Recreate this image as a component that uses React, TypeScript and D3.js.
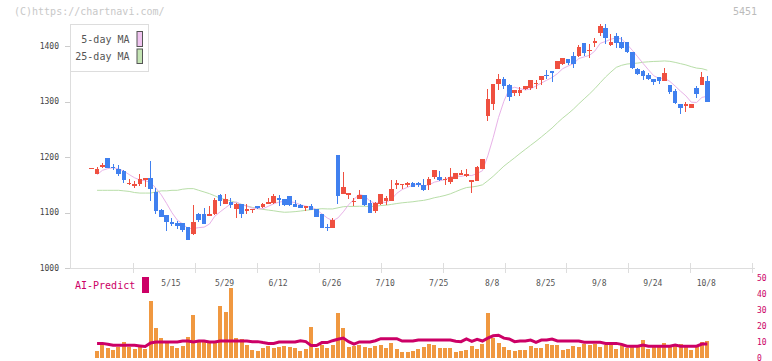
import React from "react";
import * as d3 from "d3";

// Daily candles (index 0..115)
const opens = [1179,1170,1182,1198,1182,1179,1174,1153,1148,1151,1158,1163,1137,1104,1095,1082,1081,1081,1073,1061,1098,1098,1094,1097,1131,1116,1119,1107,1115,1103,1104,1111,1110,1116,1117,1126,1124,1129,1115,1114,1109,1112,1106,1097,1074,1072,1204,1133,1132,1120,1124,1131,1118,1102,1115,1121,1121,1150,1151,1149,1153,1153,1150,1149,1164,1164,1158,1155,1161,1168,1165,1155,1157,1179,1274,1295,1331,1340,1330,1316,1316,1322,1324,1333,1338,1348,1355,1358,1367,1376,1382,1382,1405,1391,1406,1424,1433,1402,1418,1408,1407,1389,1358,1355,1348,1340,1345,1337,1330,1319,1295,1292,1289,1325,1329,1337];
const highs = [1181,1182,1189,1199,1188,1185,1177,1160,1157,1170,1163,1192,1145,1107,1095,1090,1085,1081,1073,1114,1100,1109,1112,1126,1133,1133,1127,1117,1115,1116,1107,1112,1117,1127,1133,1131,1124,1130,1122,1115,1112,1115,1106,1097,1079,1090,1204,1173,1136,1127,1140,1131,1122,1119,1134,1130,1158,1158,1152,1155,1155,1155,1160,1164,1177,1174,1164,1180,1171,1177,1178,1158,1183,1197,1323,1332,1349,1344,1332,1320,1327,1328,1338,1338,1346,1357,1355,1373,1379,1376,1390,1402,1405,1404,1415,1439,1439,1421,1424,1416,1407,1389,1361,1356,1352,1340,1345,1361,1330,1323,1295,1299,1295,1328,1353,1346];
const lows = [1179,1170,1180,1180,1177,1166,1154,1149,1144,1148,1146,1121,1097,1091,1067,1076,1071,1064,1051,1060,1082,1079,1093,1095,1112,1116,1108,1090,1090,1097,1100,1106,1109,1115,1115,1112,1112,1112,1110,1108,1103,1104,1091,1072,1067,1072,1115,1133,1124,1112,1124,1112,1099,1099,1114,1113,1121,1143,1143,1146,1146,1146,1138,1140,1161,1157,1149,1151,1160,1168,1164,1135,1157,1179,1264,1284,1320,1323,1301,1310,1310,1320,1320,1322,1329,1341,1335,1358,1365,1365,1360,1380,1382,1379,1398,1418,1404,1400,1397,1395,1388,1358,1347,1338,1338,1329,1332,1337,1314,1296,1277,1281,1288,1307,1329,1299];
const closes = [1180,1178,1185,1181,1180,1169,1158,1154,1152,1160,1162,1142,1103,1092,1082,1079,1075,1069,1051,1082,1087,1079,1097,1122,1121,1124,1114,1115,1097,1107,1107,1108,1115,1119,1129,1123,1114,1113,1110,1109,1111,1105,1091,1072,1072,1086,1130,1146,1136,1121,1131,1114,1099,1118,1133,1126,1143,1153,1152,1153,1146,1149,1140,1161,1177,1158,1161,1164,1171,1171,1169,1158,1182,1197,1305,1332,1340,1328,1308,1320,1320,1328,1338,1334,1346,1346,1352,1373,1379,1370,1367,1398,1388,1393,1409,1436,1415,1408,1406,1397,1389,1361,1350,1346,1340,1335,1337,1352,1317,1298,1289,1295,1295,1314,1344,1299];

// Moving-average values read before enough in-window history exists (index 1..)
const ma5Head = [1168, 1176, 1179];
const ma25Head = [1140,1140,1140,1140,1140,1139,1138,1136,1135,1135,1135,1137,1139,1139,1140,1140,1142,1143,1143,1140,1137,1134,1130];

// AI-Predict panel (index 1..115)
const predictBars = [4.6,8.2,6.5,5.0,7.1,10.3,7.1,5.7,7.6,5.7,35.9,19.1,12.6,9.7,7.6,6.5,7.8,13.4,27.3,10.3,10.3,9.7,10.7,32.9,29.2,43.9,12.6,12.0,8.2,5.0,4.6,6.5,7.6,6.5,7.1,7.8,7.1,6.5,4.4,5.7,19.5,6.5,8.2,6.5,8.2,28.5,19.1,7.1,7.6,8.2,7.1,6.5,7.8,8.2,6.5,9.2,5.7,4.0,3.5,4.6,5.7,7.1,8.8,8.2,6.5,6.5,6.5,4.0,4.6,5.0,7.6,5.7,8.8,28.5,12.4,9.7,6.9,5.0,4.4,5.0,5.0,7.6,6.3,6.3,8.8,8.2,8.2,5.0,5.7,7.6,6.9,8.8,8.2,8.8,6.9,8.2,8.2,5.7,8.2,6.3,6.9,6.9,11.3,5.7,6.9,6.9,9.4,6.9,7.6,8.8,6.9,5.0,6.9,10.1,10.7];
const predictLine = [9.2,9.2,8.6,8.0,8.0,8.0,8.0,8.0,7.6,7.2,9.5,10.1,10.1,10.1,10.1,10.1,10.7,10.7,10.1,10.7,10.7,10.1,10.1,10.7,10.7,10.7,10.7,10.7,10.7,10.3,10.3,9.7,9.2,9.2,10.1,10.1,10.1,10.1,10.9,10.3,7.8,7.8,9.7,9.7,10.9,11.8,12.6,10.3,8.8,10.1,10.1,10.1,10.9,12.2,12.2,12.2,12.2,10.7,10.7,10.7,11.3,11.3,11.3,11.3,11.3,11.3,11.3,10.5,10.3,12.0,10.5,11.8,10.7,12.5,14.0,14.3,12.5,12.0,10.3,10.7,10.7,11.3,9.9,11.3,11.3,11.9,10.7,10.7,10.7,10.7,10.7,9.9,9.9,9.9,9.9,9.2,9.2,9.2,8.6,7.4,7.4,7.4,8.2,7.4,7.4,7.4,7.4,7.4,8.2,7.4,7.4,7.4,7.4,8.8,8.8];

// Axis labels
const dateLabels = ["5/15","5/29","6/12","6/26","7/10","7/25","8/8","8/25","9/8","9/24","10/8"];
const dateLabelIdx = [15,25,35,45,55,65,75,85,95,105,115];
const priceTicks = [1000,1100,1200,1300,1400];
const predictTicks = [0,10,20,30,40,50];

const RED = "#ef5040";
const BLUE = "#4080ef";
const MONO = "'DejaVu Sans Mono', 'Liberation Mono', monospace";

export default function App() {
  const n = closes.length;
  const x = d3.scaleLinear().domain([0, n - 1]).range([91.7, 707.3]);
  const y = d3.scaleLinear().domain([1000, 1400]).range([268, 46]);
  const v = d3.scaleLinear().domain([0, 50]).range([358, 278.6]);
  const grid = d3.scaleLinear().domain([0, 11]).range([71, 752.3]);

  const ma = (len: number, head: number[]) => {
    const out: [number, number][] = [];
    for (let i = 1; i < n; i++) {
      let val: number;
      if (i < len - 1) val = head[i - 1];
      else val = d3.mean(closes.slice(i - len + 1, i + 1)) as number;
      out.push([i, val]);
    }
    return out;
  };
  const ma5 = ma(5, ma5Head);
  const ma25 = ma(25, ma25Head);
  const maLine = d3.line<[number, number]>().x((d) => x(d[0])).y((d) => y(d[1]));
  const predLine = d3.line<number>().x((_, i) => x(i + 1)).y((d) => v(d));

  const bw = 4.6;

  return (
    <svg width={772} height={361} style={{ position: "absolute", left: 0, top: 0, background: "#fff" }} fontFamily={MONO}>
      <text x={14} y={12} dominantBaseline="middle" fontSize={10} fill="#c8c8c8">(C)https://chartnavi.com/</text>
      <text x={757} y={12} dominantBaseline="middle" textAnchor="end" fontSize={10} fill="#bbb">5451</text>

      {/* axes */}
      <line x1={70.5} x2={70.5} y1={24} y2={268} stroke="#ddd" />
      <line x1={70} x2={755} y1={268.5} y2={268.5} stroke="#ddd" />
      {d3.range(1, 12).map((k) => (
        <line key={k} x1={Math.round(grid(k)) + 0.5} x2={Math.round(grid(k)) + 0.5} y1={263} y2={273} stroke="#ddd" />
      ))}
      {priceTicks.map((t) => (
        <g key={t}>
          <line x1={65} x2={70} y1={Math.round(y(t)) + 0.5} y2={Math.round(y(t)) + 0.5} stroke="#ccc" />
          <text x={59} y={y(t)} textAnchor="end" dominantBaseline="middle" fontSize={8} fill="#444">{t}</text>
        </g>
      ))}
      {dateLabels.map((lab, i) => (
        <text key={lab} x={x(dateLabelIdx[i]) - 1} y={283} textAnchor="middle" dominantBaseline="middle" fontSize={8} fill="#555">{lab}</text>
      ))}

      {/* moving averages */}
      <path d={maLine(ma25) || ""} fill="none" stroke="#b8dea8" strokeWidth={1} />
      <path d={maLine(ma5) || ""} fill="none" stroke="#e8b2e8" strokeWidth={1} />

      {/* candles */}
      {closes.map((c, i) => {
        const o = opens[i];
        const up = c >= o;
        const col = up ? RED : BLUE;
        const cx = x(i);
        const top = y(Math.max(o, c));
        const bot = y(Math.min(o, c));
        return (
          <g key={i} shapeRendering="crispEdges">
            <line x1={cx} x2={cx} y1={y(highs[i])} y2={y(lows[i])} stroke={col} strokeWidth={1} />
            <rect x={cx - bw / 2} y={top} width={bw} height={Math.max(1, bot - top)} fill={col} />
          </g>
        );
      })}

      {/* legend */}
      <rect x={70.5} y={24.5} width={78} height={47} fill="#fff" stroke="#ddd" />
      <text x={129.5} y={40} textAnchor="end" dominantBaseline="middle" fontSize={10} fill="#555">5-day MA</text>
      <text x={129.5} y={57} textAnchor="end" dominantBaseline="middle" fontSize={10} fill="#555">25-day MA</text>
      <rect x={137} y={31.5} width={5.5} height={15} fill="#f0c4f0" stroke="#555" />
      <rect x={137} y={49} width={5.5} height={14.5} fill="#c4e4b4" stroke="#555" />

      {/* AI-Predict panel */}
      <text x={75} y={286} dominantBaseline="middle" fontSize={10} fill="#cc0066">AI-Predict</text>
      <rect x={142} y={277} width={7} height={16} fill="#cc0066" />
      {predictBars.map((b, i) => (
        <rect key={i} x={x(i + 1) - 2} y={v(b)} width={4} height={v(0) - v(b)} fill="#f09840" shapeRendering="crispEdges" />
      ))}
      <path d={predLine(predictLine) || ""} fill="none" stroke="#cc0066" strokeWidth={3} />
      {predictTicks.map((t) => (
        <text key={t} x={757} y={v(t)} dominantBaseline="middle" fontSize={8} fill="#cc0066">{t}</text>
      ))}
    </svg>
  );
}
